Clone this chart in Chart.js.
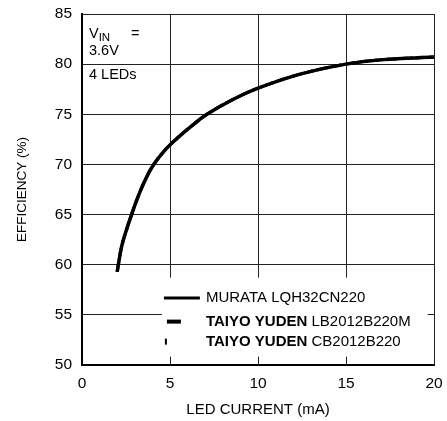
<!DOCTYPE html>
<html>
<head>
<meta charset="utf-8">
<script src="https://cdn.jsdelivr.net/npm/chart.js@4"></script>
<style>
  html, body { margin: 0; padding: 0; background: #fff; }
  #wrap { width: 447px; height: 421px; }
</style>
</head>
<body>
<div id="wrap"><canvas id="c" width="447" height="421"></canvas></div>
<script>
// ---- data ----
const ledCurrent = [2, 2.25, 2.55, 2.8, 3.1, 3.5, 4, 4.7, 5.4, 6.2, 7.1, 8.6, 10, 12.4, 15, 17.1, 20];
const effMurata  = [59.3, 61.8, 63.6, 64.9, 66.4, 68.1, 69.8, 71.4, 72.6, 73.8, 75.0, 76.5, 77.6, 79.0, 80.0, 80.45, 80.7];
const effTaiyoLB = [59.3, 61.8, 63.6, 64.9, 66.4, 68.1, 69.8, 71.4, 72.6, 73.8, 75.0, 76.5, 77.6, 79.0, 80.0, 80.45, 80.7];
const effTaiyoCB = [59.3, 61.8, 63.6, 64.9, 66.4, 68.1, 69.8, 71.4, 72.6, 73.8, 75.0, 76.5, 77.6, 79.0, 80.0, 80.45, 80.7];
const seriesMaker = ['MURATA', 'TAIYO YUDEN', 'TAIYO YUDEN'];
const seriesPart  = ['LQH32CN220', 'LB2012B220M', 'CB2012B220'];
const makerBold   = [false, true, true];
const xTicks = [0, 5, 10, 15, 20];
const yTicks = [50, 55, 60, 65, 70, 75, 80, 85];
const xTitle = 'LED CURRENT (mA)';
const yTitle = 'EFFICIENCY (%)';
const noteLines = ['3.6V', '4 LEDs'];

const FONT = '"Liberation Sans", Arial, Helvetica, sans-serif';
const pts = ys => ledCurrent.map((x, i) => ({ x: x, y: ys[i] }));

const legendPlugin = {
  id: 'customLegend',
  afterDraw(chart) {
    const ctx = chart.ctx;
    const a = chart.chartArea;
    const w = a.right - a.left, h = a.bottom - a.top;
    const bx = a.left + w * 0.227, by = a.top + h * 0.751;
    const bw = w * 0.755, bh = h * 0.225;
    ctx.save();
    ctx.fillStyle = '#fff';
    ctx.fillRect(bx, by, bw, bh);
    const rows = [by + 20.5, by + 44, by + 64];
    const sx = bx + 2;
    ctx.fillStyle = '#000';
    ctx.strokeStyle = '#000';
    ctx.lineWidth = 3;
    ctx.beginPath(); ctx.moveTo(sx, rows[0]); ctx.lineTo(sx + 36, rows[0]); ctx.stroke();
    ctx.fillRect(sx + 3, rows[1] - 2, 14, 4);
    ctx.fillRect(sx + 1, rows[2] - 3, 2, 6);
    ctx.textBaseline = 'middle';
    ctx.textAlign = 'left';
    const tx = sx + 42;
    for (let i = 0; i < seriesMaker.length; i++) {
      ctx.font = (makerBold[i] ? 'bold ' : '') + '15px ' + FONT;
      ctx.fillText(seriesMaker[i], tx, rows[i]);
      const mw = ctx.measureText(seriesMaker[i] + ' ').width;
      ctx.font = '15px ' + FONT;
      ctx.fillText(seriesPart[i], tx + mw, rows[i]);
    }
    const nx = a.left + 7;
    ctx.textBaseline = 'alphabetic';
    ctx.font = '14.5px ' + FONT;
    ctx.fillText('V', nx, a.top + 23.5);
    const vw = ctx.measureText('V').width;
    ctx.font = '11.5px ' + FONT;
    ctx.fillText('IN', nx + vw, a.top + 27);
    ctx.font = '14.5px ' + FONT;
    ctx.fillText('=', a.left + 49, a.top + 23.5);
    ctx.fillText(noteLines[0], nx, a.top + 41);
    ctx.fillText(noteLines[1], nx, a.top + 64.5);
    ctx.restore();
  }
};

new Chart(document.getElementById('c'), {
  type: 'line',
  data: {
    datasets: [
      { label: seriesMaker[2] + ' ' + seriesPart[2], data: pts(effTaiyoCB), borderColor: '#000', borderWidth: 3, borderDash: [2, 4], pointRadius: 0, tension: 0.4, fill: false },
      { label: seriesMaker[1] + ' ' + seriesPart[1], data: pts(effTaiyoLB), borderColor: '#000', borderWidth: 3, borderDash: [10, 4], pointRadius: 0, tension: 0.4, fill: false },
      { label: seriesMaker[0] + ' ' + seriesPart[0], data: pts(effMurata), borderColor: '#000', borderWidth: 3.5, pointRadius: 0, tension: 0.4, fill: false }
    ]
  },
  options: {
    responsive: false,
    animation: false,
    devicePixelRatio: 1,
    layout: { padding: { top: 14, right: 13, bottom: 0, left: 0 } },
    plugins: { legend: { display: false }, tooltip: { enabled: false } },
    scales: {
      x: {
        type: 'linear', min: 0, max: 20,
        afterBuildTicks: s => { s.ticks = xTicks.map(v => ({ value: v })); },
        afterFit: s => { s.height = 56; s.paddingLeft = 0; s.paddingRight = 0; },
        grid: { color: '#222', lineWidth: 1, drawTicks: false },
        border: { color: '#000', width: 2 },
        ticks: { color: '#000', font: { family: FONT, size: 15.5 }, padding: 9, maxRotation: 0 },
        title: { display: true, text: xTitle, color: '#000', font: { family: FONT, size: 15 }, padding: { top: 0, bottom: 2 } }
      },
      y: {
        min: 50, max: 85,
        afterBuildTicks: s => { s.ticks = yTicks.map(v => ({ value: v })); },
        afterFit: s => { s.width = 82; s.paddingTop = 0; s.paddingBottom = 0; },
        grid: { color: '#222', lineWidth: 1, drawTicks: false },
        border: { color: '#000', width: 2 },
        ticks: { color: '#000', font: { family: FONT, size: 15.5 }, padding: 10 },
        title: { display: true, text: yTitle, color: '#000', font: { family: FONT, size: 13.5 }, padding: { top: 14, bottom: 0 } }
      }
    }
  },
  plugins: [legendPlugin]
});
</script>
</body>
</html>
